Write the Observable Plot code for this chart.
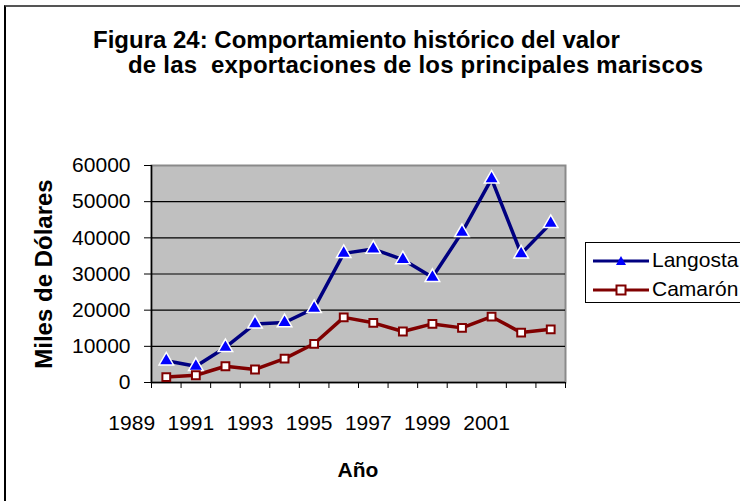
<!DOCTYPE html>
<html><head><meta charset="utf-8">
<script src="https://cdn.jsdelivr.net/npm/d3@7"></script>
<script src="https://cdn.jsdelivr.net/npm/@observablehq/plot@0.6"></script>
<style>
body{margin:0;background:#fff;}
#wrap{position:relative;width:740px;height:501px;overflow:hidden;font-family:"Liberation Sans",Arial,sans-serif;color:#000;background:#fff;}
#border{position:absolute;left:4px;top:5px;width:900px;height:700px;border-left:2px solid #000;border-top:2px solid #555;}
#chart{position:absolute;left:0;top:0;}
.t{position:absolute;white-space:pre;line-height:1;}
.title{font-weight:bold;font-size:24px;}
#ytitle{position:absolute;left:-106px;top:262px;width:300px;text-align:center;font-weight:bold;font-size:24px;line-height:24px;transform:rotate(-90deg);white-space:pre;}
#xtitle{position:absolute;left:258px;top:459px;width:200px;text-align:center;font-weight:bold;font-size:21px;line-height:21px;}
#legend{position:absolute;left:585px;top:242px;width:170px;height:59px;border:1px solid #000;background:#fff;}
#legend svg{position:absolute;left:0;top:0;}
.lt{position:absolute;left:66px;font-size:21px;line-height:21px;white-space:pre;}
</style>
</head><body>
<div id="wrap">
  <div id="border"></div>
  <div id="chart"></div>
  <div class="t title" style="left:93px;top:28px;">Figura 24: Comportamiento histórico del valor</div>
  <div class="t title" style="left:128px;top:53px;letter-spacing:0.2px;">de las  exportaciones de los principales mariscos</div>
  <div id="ytitle">Miles de Dólares</div>
  <div id="xtitle">Año</div>
  <div id="legend"></div>
</div>
<script>
const years = [1990,1991,1992,1993,1994,1995,1996,1997,1998,1999,2000,2001,2002,2003];
const langosta = [6000,4500,9700,16200,16600,20500,35700,36900,34000,29100,41500,56300,35600,44000];
const camaron = [1500,2000,4500,3600,6600,10700,18000,16500,14100,16200,15100,18200,13800,14700];
const yTicks = [0,10000,20000,30000,40000,50000,60000];
const xLabels = [1989,1991,1993,1995,1997,1999,2001];
const seriesNames = ["Langosta","Camarón"];
const seriesColors = ["#000080","#800000"];

const langRows = years.map((y,i)=>({year:y, value:langosta[i]}));
const camRows = years.map((y,i)=>({year:y, value:camaron[i]}));
const edges = years.map(y=>y-0.5).concat([years[years.length-1]+0.5]);

const chart = Plot.plot({
  width:740, height:501,
  marginLeft:151, marginRight:175, marginTop:165, marginBottom:119,
  style:{fontFamily:"Liberation Sans, Arial, sans-serif", fontSize:"21px", color:"#000", background:"transparent", overflow:"visible"},
  x:{type:"linear", domain:[edges[0], edges[edges.length-1]]},
  y:{domain:[yTicks[0], yTicks[yTicks.length-1]]},
  marks:[
    Plot.frame({fill:"#c0c0c0", stroke:"#8a8a8a", strokeWidth:2}),
    Plot.ruleY(yTicks.slice(1,-1), {stroke:"#000", strokeWidth:1.2}),
    Plot.ruleY([yTicks[0]], {stroke:"#000", strokeWidth:1.5}),
    Plot.ruleX([edges[0]], {stroke:"#000", strokeWidth:1.5}),
    Plot.axisY({ticks:yTicks, tickSize:7, tickPadding:14, tickFormat:d3.format("d"), label:null, stroke:"#000"}),
    Plot.axisX({ticks:edges, tickSize:6, tickFormat:()=>"", label:null, stroke:"#000"}),
    Plot.text(xLabels, {x:d=>d, text:d=>String(d), frameAnchor:"bottom", lineAnchor:"top", dy:33, dx:-5, fontSize:21, fill:"#000"}),
    Plot.line(langRows, {x:"year", y:"value", stroke:seriesColors[0], strokeWidth:3.5}),
    Plot.line(camRows, {x:"year", y:"value", stroke:seriesColors[1], strokeWidth:3.5}),
    Plot.dot(langRows, {x:"year", y:"value", symbol:"triangle", r:5.4, fill:"#0000ff", stroke:"#fff", strokeWidth:1.5}),
    Plot.dot(camRows, {x:"year", y:"value", symbol:"square", r:4.4, fill:"#fff", stroke:seriesColors[1], strokeWidth:2})
  ]
});
document.getElementById("chart").appendChild(chart);

// legend
const lg = document.getElementById("legend");
const ns = "http://www.w3.org/2000/svg";
const svg = document.createElementNS(ns,"svg");
svg.setAttribute("width","170"); svg.setAttribute("height","59");
const rowsY = [18, 47];
seriesNames.forEach((name,i)=>{
  const y = rowsY[i];
  const line = document.createElementNS(ns,"line");
  line.setAttribute("x1",7); line.setAttribute("x2",63);
  line.setAttribute("y1",y); line.setAttribute("y2",y);
  line.setAttribute("stroke",seriesColors[i]); line.setAttribute("stroke-width",3);
  svg.appendChild(line);
  const p = document.createElementNS(ns,"path");
  if(i===0){
    p.setAttribute("d","M35,"+(y-5)+"L40,"+(y+4)+"L30,"+(y+4)+"Z");
    p.setAttribute("fill","#0000ff");
  } else {
    p.setAttribute("d","M30.5,"+(y-4.5)+"h9v9h-9Z");
    p.setAttribute("fill","#fff"); p.setAttribute("stroke",seriesColors[1]); p.setAttribute("stroke-width",2);
  }
  svg.appendChild(p);
  const t = document.createElement("div");
  t.className="lt"; t.style.top=(y-12)+"px"; t.textContent=name;
  lg.appendChild(t);
});
lg.appendChild(svg);
</script>
</body></html>
